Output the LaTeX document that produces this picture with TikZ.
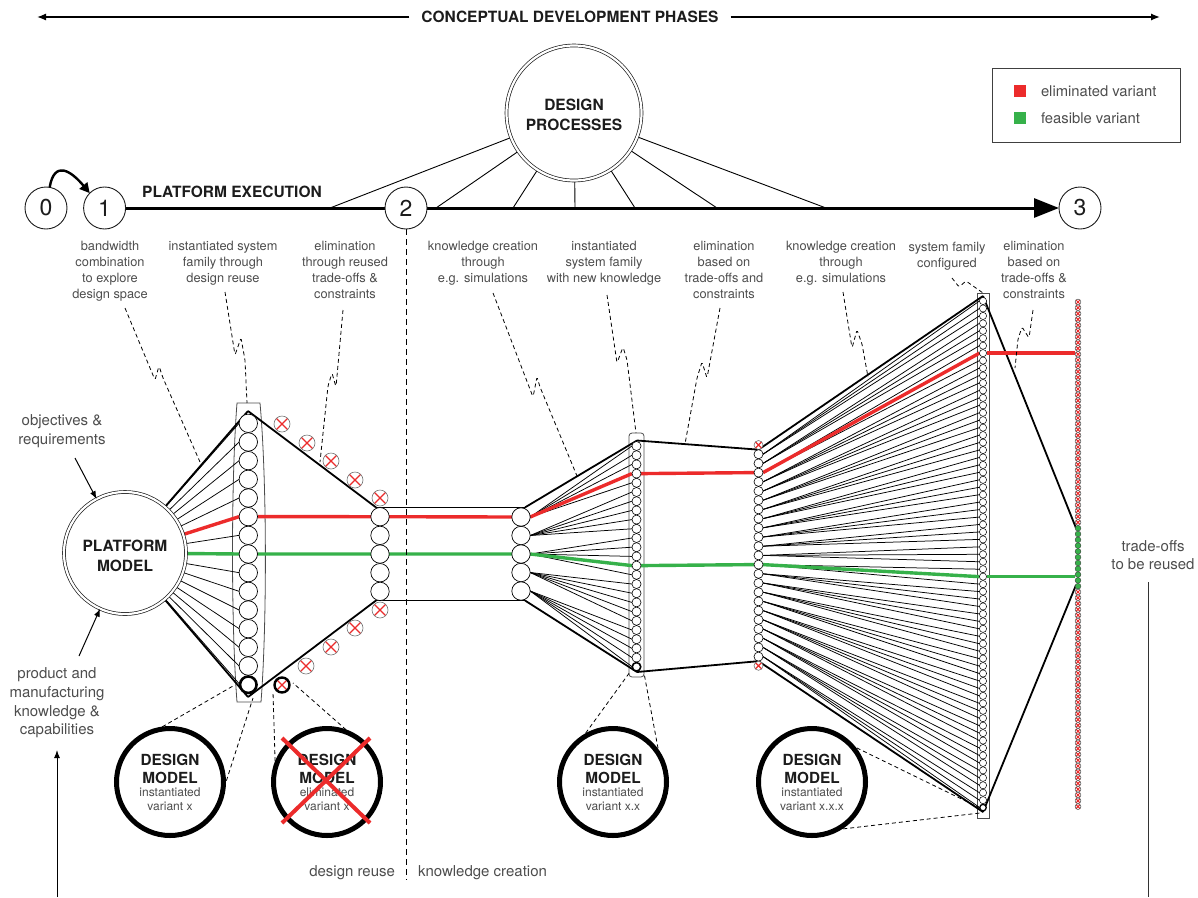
\documentclass[tikz,border=0pt]{standalone}
\usepackage{fontspec}
\setmainfont{TeX Gyre Heros}
\usetikzlibrary{arrows.meta}
\pgfdeclarelayer{bg}
\pgfsetlayers{bg,main}
\definecolor{vred}{HTML}{EC2B2B}
\definecolor{vgreen}{HTML}{36B14A}
\definecolor{txtgray}{HTML}{4D4D4D}
\definecolor{dark}{HTML}{1C1C1C}
\begin{document}
\begin{tikzpicture}[x=1pt,y=-1pt,
  every node/.append style={inner sep=0pt,outer sep=0pt},
  lbl/.style={align=center,font=\fontsize{12.8}{16}\selectfont,text=txtgray},
  sidelbl/.style={align=center,font=\fontsize{15}{18.7}\selectfont,text=txtgray},
  ttl/.style={align=center,font=\fontsize{15.5}{20}\selectfont\bfseries,text=dark},
  numc/.style={circle,draw=dark,fill=white,line width=0.9pt,minimum size=42pt,font=\fontsize{23}{23}\selectfont,text=dark},
  dbl/.style={circle,draw=dark,fill=white,double=white,double distance=2.2pt,line width=0.7pt},
  dmc/.style={circle,draw=black,fill=white,line width=5pt,minimum size=107pt},
  dmt/.style={align=center,font=\fontsize{15.3}{18}\selectfont\bfseries,text=dark},
  dms/.style={align=center,font=\fontsize{12}{14}\selectfont,text=txtgray},
  vc/.style={circle,draw=black,fill=white,line width=0.7pt},
  ca/.style={vc,minimum size=18.4pt},
  cd/.style={vc,minimum size=9.1pt,line width=0.6pt},
  cf/.style={vc,minimum size=7.2pt,line width=0.5pt},
  xc/.style={circle,draw=black!55,fill=white,line width=0.6pt,
     path picture={\draw[vred,line width=#1]
       (path picture bounding box.north west)--(path picture bounding box.south east)
       (path picture bounding box.north east)--(path picture bounding box.south west);}},
  xc/.default=1.3pt,
  gg/.style={circle,draw=black!75,fill=vgreen,line width=0.4pt,minimum size=5.8pt},
  fan/.style={line width=0.75pt,black},
  outl/.style={line width=1.8pt,black},
  redl/.style={line width=3.4pt,vred},
  grnl/.style={line width=3.4pt,vgreen},
  dsh/.style={line width=0.8pt,dash pattern=on 4pt off 3pt,rounded corners=1.5pt},
  capsule/.style={draw=black!70,line width=0.8pt},
  thinarr/.style={line width=1pt,-{Latex[length=8pt,width=6pt]}}
]
\useasboundingbox (0,0) rectangle (1198,897);

% ---------- top phase arrow ----------
\node[ttl,inner xsep=12pt] (phase) at (570,17) {CONCEPTUAL DEVELOPMENT PHASES};
\coordinate (pl) at (37,17);
\coordinate (pr) at (1160,17);
\draw[line width=1.3pt,-{Latex[length=9pt,width=7pt]}] (phase.west) -- (pl);
\draw[line width=1.3pt,-{Latex[length=9pt,width=7pt]}] (phase.east) -- (pr);

% ---------- legend ----------
\draw[draw=black!75,line width=0.8pt] (992,68) rectangle (1180,142);
\node[fill=vred,minimum size=12.5pt] (lr) at (1020,91) {};
\node[fill=vgreen,minimum size=12.5pt] (lg) at (1020,118) {};
\node[anchor=west,font=\fontsize{14.8}{16}\selectfont,text=txtgray] (lrt) at (1041,91) {eliminated variant};
\node[anchor=west,font=\fontsize{14.8}{16}\selectfont,text=txtgray] (lgt) at (1041,118) {feasible variant};

% ---------- design processes ----------
\node[dbl,minimum size=135pt] (DP) at (574,113) {};
\node[ttl] (DPt) at (574,115) {DESIGN\\PROCESSES};

% ---------- timeline ----------
\node[numc] (n0) at (46,208) {0};
\node[numc] (n1) at (104.6,208) {1};
\node[numc] (n2) at (406,208) {2};
\node[numc] (n3) at (1080,208) {3};
\node[ttl] (pe) at (232,192) {PLATFORM EXECUTION};
\begin{pgfonlayer}{bg}
\draw[line width=3pt,-{Triangle[length=25pt,width=19pt]}] (n1) -- (n3);
\foreach \sx [count=\s] in {330,436,513,575,635,717,826} {
  \coordinate (sp\s) at (\sx,208);
  \draw[line width=0.9pt] (DP) -- (sp\s);
}
\end{pgfonlayer}
\draw[line width=2.4pt,-{Triangle[length=10pt,width=10pt]},looseness=1.8] (n0.80) to[out=80,in=130] (n1.135);

% ---------- top labels ----------
\node[lbl,anchor=north] (t1) at (110,241) {bandwidth\\combination\\to explore\\design space};
\node[lbl,anchor=north] (t2) at (223,241) {instantiated system\\family through\\design reuse};
\node[lbl,anchor=north] (t3) at (345,241) {elimination\\through reused\\trade-offs \&\\constraints};
\node[lbl,anchor=north] (t4) at (483,241) {knowledge creation\\through\\e.g. simulations};
\node[lbl,anchor=north] (t5) at (604,241) {instantiated\\system family\\with new knowledge};
\node[lbl,anchor=north] (t6) at (724,241) {elimination\\based on\\trade-offs and\\constraints};
\node[lbl,anchor=north] (t7) at (841,241) {knowledge creation\\through\\e.g. simulations};
\node[lbl,anchor=north] (t8) at (947,242) {system family\\configured};
\node[lbl,anchor=north] (t9) at (1034,241) {elimination\\based on\\trade-offs \&\\constraints};

% ---------- side labels ----------
\node[sidelbl] (obj) at (62,431) {objectives \&\\requirements};
\node[sidelbl] (pmk) at (57,703) {product and\\manufacturing\\knowledge \&\\capabilities};
\node[sidelbl] (tor) at (1153,555) {trade-offs\\to be reused};
\node[sidelbl,anchor=base east] (dr) at (395,876) {design reuse};
\node[sidelbl,anchor=base west] (kc) at (418,876) {knowledge creation};

% ---------- platform model ----------
\node[dbl,minimum size=122pt] (PM) at (125,553) {};
\node[ttl,font=\fontsize{15.5}{20}\selectfont\bfseries] (PMt) at (125,556) {PLATFORM\\MODEL};
\coordinate (a1) at (75,458);
\coordinate (a2) at (79,656);
\draw[thinarr] (a1) -- (PM);
\draw[thinarr] (a2) -- (PM);
\coordinate (lb) at (57,897);
\coordinate (lt) at (57,750);
\draw[thinarr] (lb) -- (lt);
\coordinate (rt) at (1148,582);
\coordinate (rb) at (1148,897);
\draw[line width=0.9pt,black!80] (rt) -- (rb);

% ---------- capsules ----------
\begin{pgfonlayer}{bg}
\draw[capsule] (237,403) .. controls (231,480) and (231,625) .. (237,702) -- (261,702) .. controls (267,625) and (267,480) .. (260,403) -- cycle;
\draw[capsule,rounded corners=3pt] (629,433) rectangle (644,677);
\draw[capsule] (977,293) rectangle (989,818);
\end{pgfonlayer}

% ---------- column A ----------
\foreach \i in {1,...,14} \node[ca] (A\i) at (248.3,{423.3+(\i-1)*18.67}) {};
\node[ca,minimum size=16.5pt,line width=2.6pt] (A15) at (248.3,684.7) {};
\coordinate (Atop) at (248,411);
\coordinate (Abot) at (248,697);

% ---------- column B ----------
\foreach \i in {1,...,5} \node[ca] (B\i) at (380,{516.7+(\i-1)*18.67}) {};
\foreach \p [count=\q] in {{282,424},{307,443},{331,461},{355,480},{380,498},{380,610},{355,628},{331,647},{306,666}}
  \node[xc,minimum size=16pt] (X\q) at (\p) {};
\node[xc,minimum size=15pt,draw=black,line width=2.4pt] (X10) at (282,685) {};
\coordinate (Bt) at (376,507.4);
\coordinate (Bb) at (376,600.5);

% ---------- column C ----------
\foreach \i in {1,...,5} \node[ca] (C\i) at (521,{517+(\i-1)*18.5}) {};
\coordinate (Ct) at (525,507.4);
\coordinate (Cb) at (525,600.5);

% ---------- column D ----------
\foreach \j in {0,...,23} \node[cd] (D\j) at (636.5,{446+\j*9.2}) {};
\node[cd,minimum size=8.5pt,line width=1.6pt] (D24) at (636.5,666.8) {};
\coordinate (Dtop) at (637,440.5);
\coordinate (Dbot) at (637,672);

% ---------- column E ----------
\node[xc,minimum size=9pt] (E0) at (758.5,445) {};
\foreach \k in {1,...,23} \node[cd] (E\k) at (758.5,{445+\k*9.2}) {};
\node[xc,minimum size=9pt] (E24) at (758.5,665.8) {};

% ---------- column F ----------
\foreach \m in {0,...,67} \node[cf] (F\m) at (983,{301+\m*7.45}) {};
\node[cf,minimum size=6.5pt,line width=1.3pt] (F68) at (983,807.6) {};
\coordinate (Ftop) at (983,296);
\coordinate (Fbot) at (983,812);

% ---------- column G ----------
\foreach \g in {0,...,87} {
  \pgfmathsetmacro\gy{302+\g*5.8}
  \pgfmathtruncatemacro\isg{and(\gy>526,\gy<588)}
  \ifnum\isg=1
    \node[gg] (G\g) at (1078,\gy) {};
  \else
    \node[xc=1pt,minimum size=5.8pt,line width=0.45pt,draw=black!75] (G\g) at (1078,\gy) {};
  \fi
}
\coordinate (Gtg) at (1076,528);
\coordinate (Gbg) at (1076,585);

% ---------- connectors ----------
\begin{pgfonlayer}{bg}
\foreach \i in {1,...,15} \draw[fan] (PM) -- (A\i.west);
\foreach \i in {1,...,5}{
  \foreach \j in {0,...,4}{
    \pgfmathtruncatemacro\k{5*(\i-1)+\j}
    \draw[fan] (C\i.east) -- (D\k.west);
  }}
\foreach \k in {1,...,23}{
  \foreach \j in {0,1,2}{
    \pgfmathtruncatemacro\m{3*(\k-1)+\j}
    \draw[fan] (E\k.east) -- (F\m.west);
  }}
\draw[outl] (PM) -- (Atop);
\draw[outl] (PM) -- (Abot);
\draw[outl] (Atop) -- (Bt);
\draw[outl] (Bt) -- (Ct);
\draw[outl] (Abot) -- (Bb);
\draw[outl] (Bb) -- (Cb);
\draw[outl] (Ct) -- (Dtop);
\draw[outl] (Cb) -- (Dbot);
\draw[outl] (Dtop) -- (E1.north);
\draw[outl] (Dbot) -- (E23.south);
\draw[outl] (E1.north) -- (Ftop);
\draw[outl] (E23.south) -- (Fbot);
\draw[outl] (Ftop) -- (Gtg);
\draw[outl] (Fbot) -- (Gbg);
% red path
\draw[redl] (PM) -- (A6.west);
\draw[redl] (A6.east) -- (B1.west);
\draw[redl] (B1.east) -- (C1.west);
\draw[redl] (C1.east) -- (D3.west);
\draw[redl] (D3.east) -- (E3.west);
\draw[redl] (E3.east) -- (F7.west);
\draw[redl] (F7.east) -- (F7.east -| G0.west);
% green path
\draw[grnl] (PM) -- (A8.west);
\draw[grnl] (A8.east) -- (B3.west);
\draw[grnl] (B3.east) -- (C3.west);
\draw[grnl] (C3.east) -- (D13.west);
\draw[grnl] (D13.east) -- (E13.west);
\draw[grnl] (E13.east) -- (F37.west);
\draw[grnl] (F37.east) -- (F37.east -| G0.west);
% phase divider
\coordinate (dv) at (406,880);
\draw[line width=1pt,dash pattern=on 6pt off 4pt] (n2.south) -- (dv);
% leaders
\draw[dsh] (125,308) -- (155,380) -- (159,366) -- (163,378) -- (200,462);
\draw[dsh] (225,292) -- (235,355) -- (241,338) -- (245,360) -- (247,403);
\draw[dsh] (343,310) -- (336,387) -- (332,373) -- (328,386) -- (320,462);
\draw[dsh] (493,293) -- (533,397) -- (537,377) -- (540,387) -- (577,476);
\draw[dsh] (607,295) -- (617,363) -- (623,347) -- (627,360) -- (636,433);
\draw[dsh] (720,308) -- (707,378) -- (702,362) -- (697,378) -- (685,444);
\draw[dsh] (843,292) -- (852,348) -- (857,330) -- (862,344) -- (868,377);
\draw[dsh] (952,278) -- (959,287) -- (966,281) -- (983,293);
\draw[dsh] (1033,310) -- (1029,338) -- (1022,327) -- (1018,339) -- (1015,368);
\end{pgfonlayer}

% ---------- design models ----------
\node[dmc] (dm1) at (170,782) {};
\node[dmc] (dm2) at (327,782) {};
\node[dmc] (dm3) at (613,782) {};
\node[dmc] (dm4) at (812,782) {};
\foreach \d/\v in {dm1/instantiated\\variant x,dm2/eliminated\\variant x,dm3/instantiated\\variant x.x,dm4/instantiated\\variant x.x.x}{
  \node[dmt] (\d t) at ([yshift=13pt]\d.center) {DESIGN\\MODEL};
  \node[dms] (\d s) at ([yshift=-17pt]\d.center) {\v};
}
\draw[vred,line width=4pt] (282,738) -- (370,823);
\draw[vred,line width=4pt] (370,738) -- (282,823);
\coordinate (m1a) at (233,686);
\coordinate (m1b) at (253,698);
\coordinate (m2a) at (273,692);
\coordinate (m2b) at (293,683);
\coordinate (m3a) at (630,672);
\coordinate (m3b) at (644,673);
\coordinate (m4a) at (980,808);
\coordinate (m4b) at (980,813);
\draw[dsh] (dm1.105) -- (m1a);
\draw[dsh] (dm1.347) -- (m1b);
\draw[dsh] (dm2.165) -- (m2a);
\draw[dsh] (dm2.63) -- (m2b);
\draw[dsh] (dm3.126) -- (m3a);
\draw[dsh] (dm3.30) -- (m3b);
\draw[dsh] (dm4.44) -- (m4a);
\draw[dsh] (dm4.297) -- (m4b);
\end{tikzpicture}
\end{document}
